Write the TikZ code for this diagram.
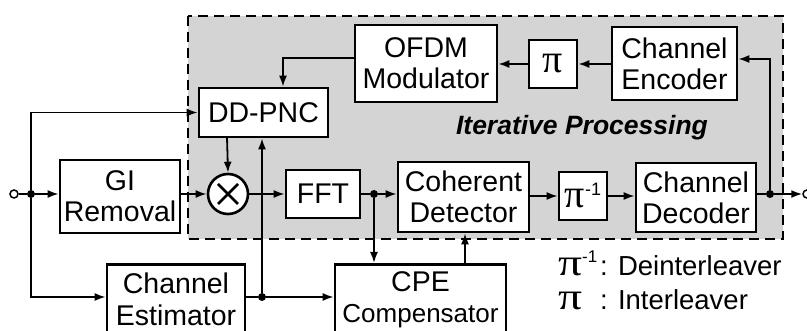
\documentclass[tikz,border=0pt]{standalone}
\usepackage{fontspec}
\setmainfont{Liberation Sans}
\newfontfamily\pifont{Liberation Serif}
\usetikzlibrary{arrows.meta,calc}
\definecolor{shade}{RGB}{212,212,212}
\newcommand{\legpi}{\scalebox{1.25}[1]{\pifont\fontsize{38}{38}\selectfont π}}
\begin{document}
\begin{tikzpicture}[x=1pt,y=-1pt,
  blk/.style={draw,line width=2.6pt,fill=white,inner sep=0pt,align=center,
    font=\fontsize{28.5}{31}\selectfont},
  conn/.style={line width=1.8pt,-{Latex[length=11pt,width=8pt]}},
  wire/.style={line width=1.8pt},
  dotn/.style={circle,fill=black,inner sep=0pt,minimum size=8pt},
  term/.style={circle,draw,line width=1.5pt,fill=white,inner sep=0pt,minimum size=8pt},
  leg/.style={anchor=base west,inner sep=0pt,text height=18pt,text depth=0pt},
]
\useasboundingbox (0,0) rectangle (807,331);
\clip (0,0) rectangle (807,331);
\fill[white] (0,0) rectangle (807,331);
% iterative region
\draw[fill=shade,line width=2.6pt,dash pattern=on 10pt off 6pt] (188,16) rectangle (783,239);
\node[font=\bfseries\itshape\fontsize{26.5}{28}\selectfont] (iter) at (582,128) {Iterative Processing};

% blocks
\node[blk,minimum width=142pt,minimum height=77pt] (ofdm) at (426,63.5) {OFDM\\Modulator};
\node[blk,minimum width=48pt,minimum height=48pt,font=\pifont\fontsize{40}{40}\selectfont] (pi) at (553,64) {π};
\node[blk,minimum width=125pt,minimum height=73pt] (enc) at (674.5,63.5) {Channel\\Encoder};
\node[blk,minimum width=129pt,minimum height=49pt] (dd) at (263.5,112.5) {DD-PNC};
\node[blk,minimum width=120pt,minimum height=73pt] (gi) at (120,196.5) {GI\\Removal};
\node[draw,circle,line width=2.6pt,fill=white,minimum size=40pt,inner sep=0pt] (mul) at (228,194) {};
\draw[line width=2.6pt] ($(mul)+(-10,-10)$) -- ($(mul)+(10,10)$) ($(mul)+(-10,10)$) -- ($(mul)+(10,-10)$);
\node[blk,minimum width=74pt,minimum height=48pt] (fft) at (323,194) {FFT};
\node[blk,minimum width=131pt,minimum height=70pt] (coh) at (463.5,197) {Coherent\\Detector};
\node[blk,minimum width=48pt,minimum height=48pt] (pinv) at (583,196) {{\pifont\fontsize{40}{40}\selectfont π}\raisebox{12pt}{\fontsize{18}{18}\selectfont -1}};
\node[blk,minimum width=120pt,minimum height=69pt] (dec) at (696,197.5) {Channel\\Decoder};
\node[blk,minimum width=138pt,minimum height=70pt,anchor=north,font=\fontsize{28.5}{32}\selectfont] (est) at (176,263) {Channel\\Estimator};
\node[blk,minimum width=171pt,minimum height=70pt,anchor=north,font=\fontsize{28.5}{31}\selectfont] (cpe) at (420.5,263) {CPE\\{\fontsize{26}{28}\selectfont Compensator}};

% terminals and junctions
\node[term] (in) at (14,194) {};
\node[dotn] (j1) at (31,194) {};
\node[dotn] (j2) at (374,194) {};
\node[dotn] (j3) at (770,194) {};
\node[dotn] (j4) at (262,297) {};
\node[term] (out) at (807,194) {};
\coordinate (c1) at (283,58);
\coordinate (c2) at (227,137);
\coordinate (c3) at (465,263);

% connectors
\draw[wire] (in) -- (j1);
\draw[conn] (j1) -- (gi.west |- j1);
\draw[conn] (j1) |- (dd.west);
\draw[conn] (j1) |- (est.west |- j4);
\draw[conn] (gi.east |- mul) -- (mul);
\draw[conn] (mul) -- (fft.west);
\draw[wire] (fft.east) -- (j2);
\draw[conn] (j2) -- (coh.west |- j2);
\draw[conn] (j2) -- (j2 |- cpe.north);
\draw[conn] (coh.east |- pinv) -- (pinv.west);
\draw[conn] (pinv.east) -- (dec.west |- pinv);
\draw[wire] (dec.east |- j3) -- (j3);
\draw[conn] (j3) -- (out.west);
\draw[conn] (j3) |- ($(enc.east)+(0,-4.5)$);
\draw[conn] (enc.west |- pi) -- (pi.east);
\draw[conn] (pi.west) -- (ofdm.east |- pi);
\draw[conn] (ofdm.west |- c1) -- (c1) -- (c1 |- dd.north);
\draw[conn] (c2) -- (mul.north);
\draw[wire] (est.east |- j4) -- (j4);
\draw[conn] (j4) -- (cpe.west |- j4);
\draw[conn] (j4) -- (j4 |- dd.south);
\draw[conn] (c3) -- (c3 |- coh.south);

% legend
\node[leg] (l1) at (558,276) {\legpi\raisebox{13pt}{\fontsize{17}{17}\selectfont -1}};
\node[leg,font=\fontsize{27.5}{29}\selectfont] (l1t) at (600,276) {: Deinterleaver};
\node[leg] (l2) at (558,310) {\legpi};
\node[leg,font=\fontsize{27.5}{29}\selectfont] (l2t) at (600,310) {: Interleaver};
\end{tikzpicture}
\end{document}
